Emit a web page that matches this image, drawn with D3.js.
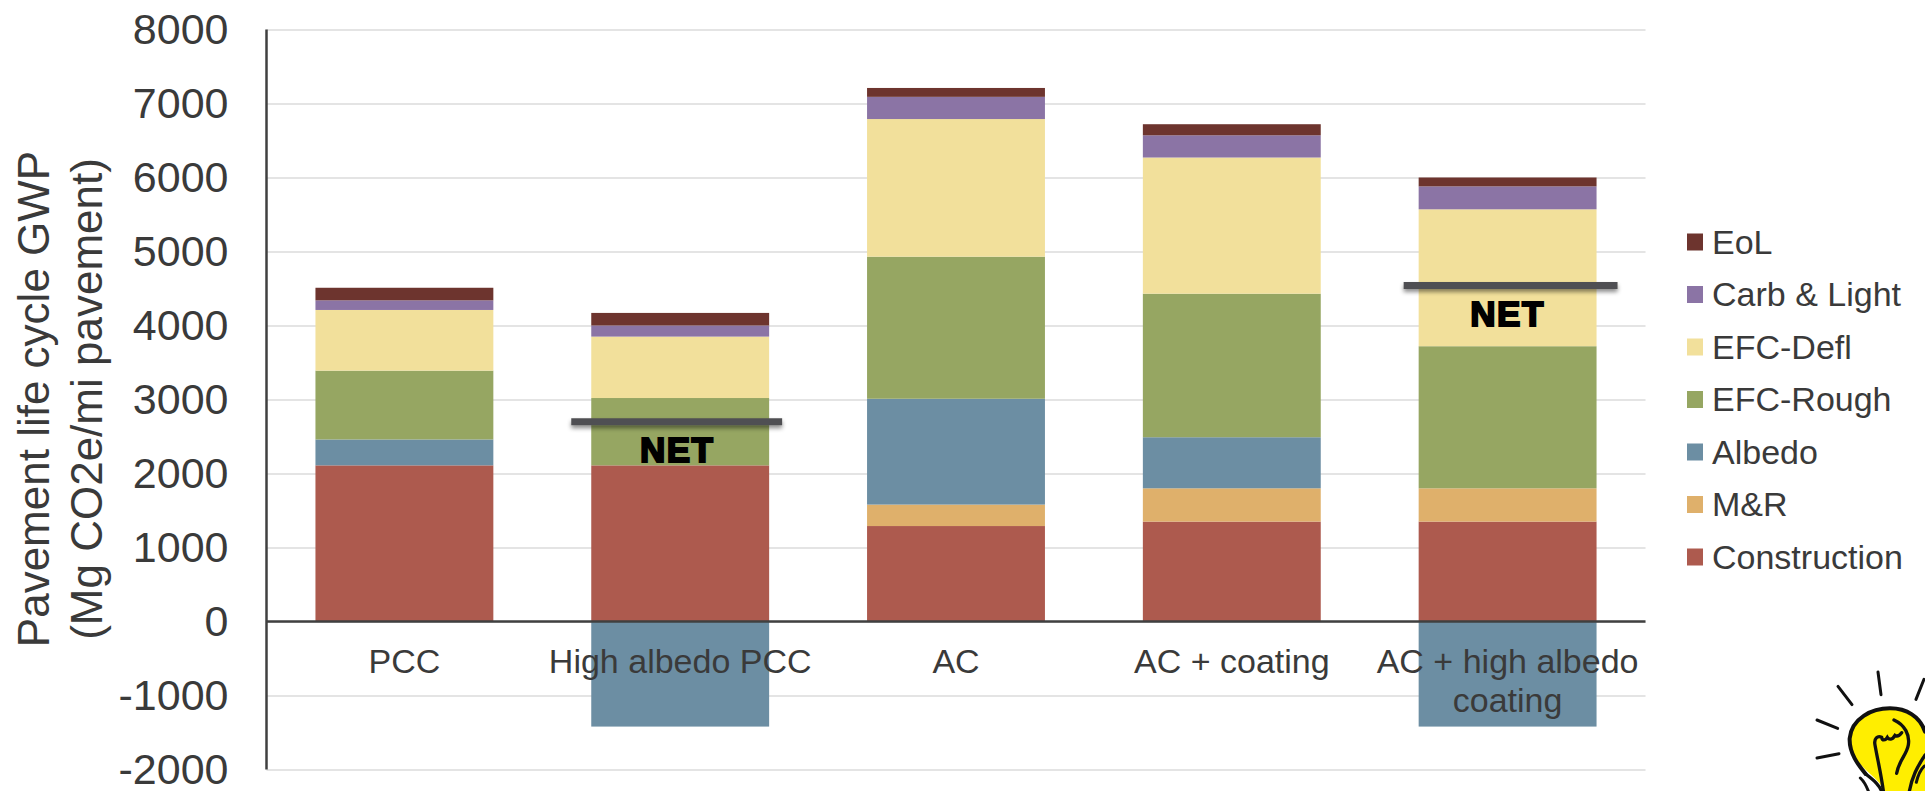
<!DOCTYPE html>
<html>
<head>
<meta charset="utf-8">
<script src="https://cdn.jsdelivr.net/npm/d3@7"></script>
<style>
  html, body { margin: 0; background: #fff; overflow: hidden; }
  text { font-family: "Liberation Sans", Arial, sans-serif; fill: #3a3a3a; }
</style>
</head>
<body>
<svg id="chart"></svg>
<script>
// values, Mg CO2e/mi pavement
const categories = ["PCC", "High albedo PCC", "AC", "AC + coating", "AC + high albedo coating"];
const seriesNames = ["Construction", "M&R", "Albedo", "EFC-Rough", "EFC-Defl", "Carb & Light", "EoL"];
const seriesColors = ["#ad5a4e", "#dfb06b", "#6c8ea3", "#96a662", "#f2e09b", "#8b74a5", "#6d342e"];

const construction = [2110, 2110, 1290, 1350, 1350];
const mAndR = [0, 0, 290, 450, 450];
const albedo = [350, -1420, 1430, 690, -1420];
const efcRough = [930, 910, 1920, 1940, 1920];
const efcDefl = [820, 830, 1860, 1840, 1850];
const carbLight = [130, 150, 300, 300, 310];
const eol = [170, 170, 120, 150, 120];
const netValues = [null, 2700, null, null, 4540];

const yTicks = [-2000, -1000, 0, 1000, 2000, 3000, 4000, 5000, 6000, 7000, 8000];
const yTitle = ["Pavement life cycle GWP", "(Mg CO2e/mi pavement)"];

const seriesValues = [construction, mAndR, albedo, efcRough, efcDefl, carbLight, eol];
const table = categories.map((c, i) => {
  const row = { category: c };
  seriesNames.forEach((s, j) => { row[s] = seriesValues[j][i]; });
  return row;
});

const width = 1925;
const height = 791;
const plot = { left: 266.5, right: 1645.5, top8000: 29.5, bottom: 769.5 };

const svg = d3.select("#chart").attr("width", width).attr("height", height);

// userSpaceOnUse because a flat line has an empty bounding box
const blur = svg.append("defs").append("filter").attr("id", "lineShadow")
  .attr("filterUnits", "userSpaceOnUse")
  .attr("x", 0).attr("y", 0).attr("width", width).attr("height", height);
blur.append("feDropShadow").attr("dx", 0).attr("dy", 3).attr("stdDeviation", 2)
  .attr("flood-color", "#000").attr("flood-opacity", 0.45);

const x = d3.scaleBand().domain(categories)
  .range([plot.left, plot.right]).paddingInner(0.355).paddingOuter(0.1775);
const y = d3.scaleLinear().domain([-2000, 8000]).range([plot.bottom, plot.top8000]);
const color = d3.scaleOrdinal(seriesNames, seriesColors);

// gridlines and value labels
const yAxis = svg.append("g")
  .attr("transform", `translate(${plot.left},0)`)
  .call(d3.axisLeft(y).tickValues(yTicks).tickSize(-(plot.right - plot.left)).tickPadding(38).tickFormat(d => String(d)));
yAxis.select(".domain").remove();
yAxis.selectAll(".tick line").attr("stroke", "#e4e4e4").attr("stroke-width", 2);
yAxis.selectAll(".tick text").attr("font-size", 43).style("font-family", "'Liberation Sans', Arial, sans-serif");

// stacked bars, albedo credit goes below zero
const stacked = d3.stack().keys(seriesNames).offset(d3.stackOffsetDiverging)(table);
svg.append("g").selectAll("g")
  .data(stacked)
  .join("g")
  .attr("fill", d => color(d.key))
  .selectAll("rect")
  .data(d => d)
  .join("rect")
  .attr("x", d => x(d.data.category))
  .attr("width", x.bandwidth())
  .attr("y", d => y(Math.max(d[0], d[1])))
  .attr("height", d => Math.abs(y(d[0]) - y(d[1])));

// axis lines
svg.append("line").attr("x1", plot.left).attr("x2", plot.left)
  .attr("y1", y(8000)).attr("y2", y(-2000)).attr("stroke", "#404040").attr("stroke-width", 2.5);
svg.append("line").attr("x1", plot.left).attr("x2", plot.right)
  .attr("y1", y(0)).attr("y2", y(0)).attr("stroke", "#404040").attr("stroke-width", 2.5);

// category labels, wrapped to the band step
const xAxis = svg.append("g")
  .attr("transform", `translate(0,${y(0)})`)
  .call(d3.axisBottom(x).tickSize(0).tickPadding(27));
xAxis.select(".domain").remove();
xAxis.selectAll(".tick text")
  .attr("font-size", 34)
  .style("font-family", "'Liberation Sans', Arial, sans-serif")
  .each(function (d) {
    const label = d3.select(this).text(null);
    const lineY = label.attr("y");
    let lineNo = 0;
    let tspan = label.append("tspan").attr("x", 0).attr("y", lineY).attr("dy", "0.71em");
    let line = [];
    d.split(" ").forEach(word => {
      line.push(word);
      tspan.text(line.join(" "));
      if (tspan.node().getComputedTextLength() > x.step() && line.length > 1) {
        line.pop();
        tspan.text(line.join(" "));
        line = [word];
        lineNo += 1;
        tspan = label.append("tspan").attr("x", 0).attr("y", lineY)
          .attr("dy", `${0.71 + lineNo * 1.15}em`).text(word);
      }
    });
  });

// net markers, hand placed in the source so not quite centred on the bars
const overhang = { "High albedo PCC": [20, 13, -3], "AC + high albedo coating": [15, 21, 0] };
const nets = table.map((d, i) => ({ category: d.category, net: netValues[i] })).filter(d => d.net !== null);
const net = svg.append("g").selectAll("g").data(nets).join("g");
net.append("line")
  .attr("x1", d => x(d.category) - overhang[d.category][0])
  .attr("x2", d => x(d.category) + x.bandwidth() + overhang[d.category][1])
  .attr("y1", d => y(d.net))
  .attr("y2", d => y(d.net))
  .attr("stroke", "#505052")
  .attr("stroke-width", 7)
  .attr("filter", "url(#lineShadow)");
net.append("text")
  .attr("x", d => x(d.category) + x.bandwidth() / 2 + overhang[d.category][2])
  .attr("y", d => y(d.net) + 40)
  .attr("text-anchor", "middle")
  .attr("font-size", 35)
  .attr("font-weight", 700)
  .attr("letter-spacing", 1.5)
  .attr("stroke", "#000")
  .attr("stroke-width", 2)
  .style("fill", "#000")
  .text("NET");

// y title
yTitle.forEach((t, i) => {
  svg.append("text")
    .attr("transform", `translate(${49 + i * 53},399) rotate(-90)`)
    .attr("text-anchor", "middle")
    .attr("font-size", 44)
    .text(t);
});

// legend
const legendY = d3.scalePoint().domain(seriesNames.slice().reverse()).range([242, 557]);
const legend = svg.append("g").selectAll("g")
  .data(seriesNames)
  .join("g")
  .attr("transform", d => `translate(1687,${legendY(d)})`);
legend.append("rect").attr("y", -8.5).attr("width", 16).attr("height", 17).attr("fill", d => color(d));
legend.append("text").attr("x", 25).attr("dy", "0.35em").attr("font-size", 34).text(d => d);

// light bulb in the corner, cut by the page edge
const bulb = svg.append("g").attr("transform", "translate(1825,660) scale(0.3333)")
  .attr("fill", "none").attr("stroke", "#111").attr("stroke-linecap", "round");
bulb.append("path")
  .attr("d", "M178,400 C170,360 130,345 100,305 C78,275 68,245 80,210 C100,165 145,145 195,145 C245,145 285,170 305,215 L320,400 Z")
  .attr("fill", "#ffee00").attr("stroke", "none");
bulb.append("path")
  .attr("d", "M122,342 C100,315 72,280 74,235 C80,175 140,145 195,145 C245,145 285,170 300,215")
  .attr("stroke-width", 12);
bulb.append("path").attr("d", "M122,342 C145,360 165,375 172,400").attr("stroke-width", 10);
bulb.append("path").attr("d", "M300,285 C285,310 262,340 252,400").attr("stroke-width", 10);
bulb.append("path")
  .attr("d", "M176,400 C170,350 158,300 150,255 C146,235 158,226 170,232 C172,242 180,243 187,232 C192,240 202,240 210,226 C216,230 224,226 230,218")
  .attr("stroke-width", 10);
bulb.append("path")
  .attr("d", "M207,180 C240,195 255,225 250,255 C245,285 222,300 215,340")
  .attr("stroke-width", 10);
const rays = ["M159,36 L168,104", "M39,79 L81,134", "M297,58 L273,118", "M-24,180 L38,205", "M-24,294 L42,281", "M106,354 C118,365 125,380 130,393", "M298,318 C285,330 278,350 274,367"];
bulb.selectAll(".ray").data(rays).join("path").attr("class", "ray").attr("d", d => d).attr("stroke-width", 9);
</script>
</body>
</html>
